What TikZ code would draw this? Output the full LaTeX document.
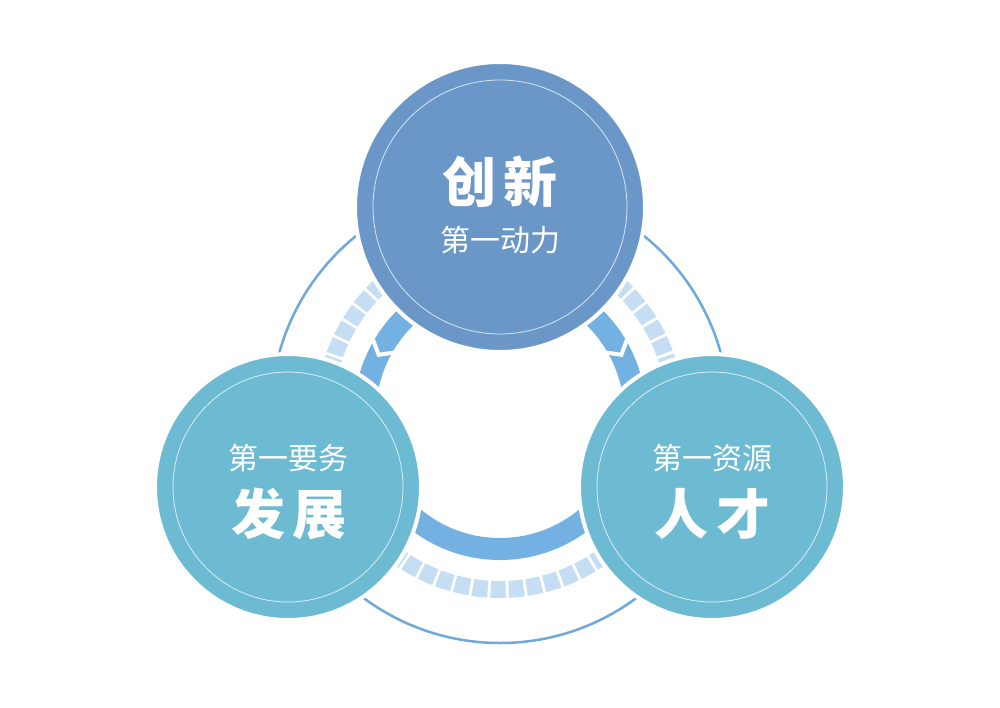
\documentclass[tikz,border=0pt]{standalone}
\usepackage{fontspec}
\newfontfamily\cjk{Noto Sans CJK SC}
\definecolor{topblue}{RGB}{106,151,200}
\definecolor{sideblue}{RGB}{109,186,211}
\definecolor{ringblue}{RGB}{115,177,227}
\definecolor{tileblue}{RGB}{197,222,244}
\definecolor{lineblue}{RGB}{111,168,221}
\begin{document}
\begin{tikzpicture}[x=1pt, y=-1pt, font=\cjk,
    ring/.style={line width=22pt, ringblue},
    tiles/.style={line width=17pt, tileblue, dash pattern=on 15pt off 3pt},
    outline/.style={line width=2.5pt, lineblue},
    cut/.style={white, line width=4pt},
    disc/.style={circle, draw=white, line width=4pt, inner sep=0pt},
    topdisc/.style={disc, fill=topblue, minimum size=290pt},
    sidedisc/.style={disc, fill=sideblue, minimum size=266pt},
    rim/.style={white, opacity=0.75, line width=0.8pt},
    title/.style={text=white, font=\cjk\bfseries\fontsize{54}{54}\selectfont},
    subtitle/.style={text=white, font=\cjk\fontsize{30}{30}\selectfont}]
    \useasboundingbox[fill=white] (0,0) rectangle (1000,707);

    % rings
    \coordinate (mid) at (500,414);
    \draw[outline] (mid) circle[radius=229];
    \draw[tiles] (mid) circle[radius=175.5];
    \draw[ring] (mid) circle[radius=135];
    \begin{scope}[shift={(mid)}]
      \draw[cut] (211.5:151) -- (206:135) -- (211.5:119);  % left arrow
      \draw[cut] (328.5:151) -- (334:135) -- (328.5:119);  % right arrow
    \end{scope}

    % circles
    \node[topdisc] (chuangxin) at (500,207) {};
    \node[sidedisc] (fazhan) at (288,487) {};
    \node[sidedisc] (rencai) at (712,487) {};
    \draw[rim] (chuangxin.center) circle[radius=127];
    \draw[rim] (fazhan.center) circle[radius=115];
    \draw[rim] (rencai.center) circle[radius=115];

    % texts
    \node[title] (chuangxin title) at (500,182) {创\hspace{8pt}新};
    \node[subtitle] (chuangxin sub) at (500,240) {第一动力};
    \node[subtitle] (fazhan sub) at (288,458) {第一要务};
    \node[title] (fazhan title) at (289,514) {发\hspace{8pt}展};
    \node[subtitle] (rencai sub) at (712,458) {第一资源};
    \node[title] (rencai title) at (712,514) {人\hspace{8pt}才};

    \end{tikzpicture}
\end{document}
